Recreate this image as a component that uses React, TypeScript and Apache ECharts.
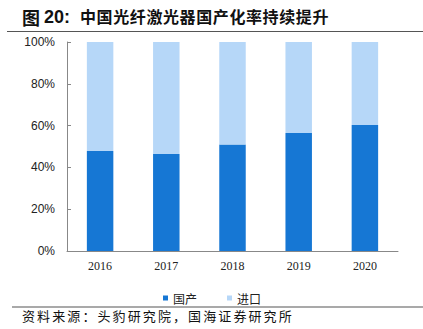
import React, { useEffect, useRef } from "react";
import * as echarts from "echarts";

const years = ["2016", "2017", "2018", "2019", "2020"];
const domestic = [47.9, 46.4, 51.0, 56.5, 60.3];
const imported = [52.1, 53.6, 49.0, 43.5, 39.7];
const yTicks = [0, 20, 40, 60, 80, 100];
const seriesNames = ["国产", "进口"];
const titleChars = "中国光纤激光器国产化率持续提升";
const footerChars = "资料来源：头豹研究院，国海证券研究所";

export default function App() {
  const ref = useRef<HTMLDivElement>(null);
  useEffect(() => {
    if (!ref.current) return;
    const chart = echarts.init(ref.current, null, { renderer: "svg" });
    const cjk = "'Noto Sans CJK SC', sans-serif";
    const titleEls: any[] = [
      { type: "text", left: 22, top: 8, style: { text: "图", font: `bold 18px ${cjk}`, fill: "#111" } },
      { type: "text", left: 44, top: 8, style: { text: "20:", font: "bold 18px 'Liberation Sans', Arial, sans-serif", fill: "#111" } },
    ];
    titleChars.split("").forEach((c, i) => {
      titleEls.push({ type: "text", left: 80 + i * 16.6, top: 8, style: { text: c, font: `bold 16px ${cjk}`, fill: "#111" } });
    });
    const footerEls: any[] = [];
    footerChars.split("").forEach((c, i) => {
      footerEls.push({ type: "text", left: 22 + i * 15.1, top: 309, style: { text: c, font: `13px ${cjk}`, fill: "#111" } });
    });
    chart.setOption({
      animation: false,
      backgroundColor: "#fff",
      grid: { left: 67, right: 25, top: 42, bottom: 78, containLabel: false },
      legend: {
        data: seriesNames,
        left: 158,
        top: 287,
        itemWidth: 5,
        itemHeight: 5,
        itemGap: 30,
        icon: "rect",
        textStyle: { fontSize: 12, color: "#222", fontFamily: cjk },
      },
      xAxis: {
        type: "category",
        data: years,
        axisLine: { lineStyle: { color: "#888" } },
        axisTick: { inside: true, length: 4, lineStyle: { color: "#888" } },
        axisLabel: { fontFamily: "'Liberation Serif', serif", fontSize: 12, color: "#222", margin: 9 },
      },
      yAxis: {
        type: "value",
        min: yTicks[0],
        max: yTicks[yTicks.length - 1],
        interval: 20,
        axisLine: { show: true, lineStyle: { color: "#888" } },
        axisTick: { show: true, inside: true, length: 4, lineStyle: { color: "#888" } },
        splitLine: { show: false },
        axisLabel: { formatter: "{value}%", fontFamily: "'Liberation Sans', Arial, sans-serif", fontSize: 12, color: "#222", margin: 12 },
      },
      series: [
        { name: seriesNames[0], type: "bar", stack: "a", data: domestic, barWidth: "40%", itemStyle: { color: "#1677d4" } },
        { name: seriesNames[1], type: "bar", stack: "a", data: imported, barWidth: "40%", itemStyle: { color: "#b6d7f8" } },
      ],
      graphic: [
        ...titleEls,
        { type: "line", shape: { x1: 7, y1: 31.5, x2: 423, y2: 31.5 }, style: { stroke: "#555", lineWidth: 1.2 } },
        { type: "line", shape: { x1: 12, y1: 307, x2: 423, y2: 307 }, style: { stroke: "#555", lineWidth: 1.2 } },
        ...footerEls,
      ],
    });
    return () => chart.dispose();
  }, []);
  return <div ref={ref} style={{ position: "fixed", left: 0, top: 0, width: 423, height: 329 }} />;
}
